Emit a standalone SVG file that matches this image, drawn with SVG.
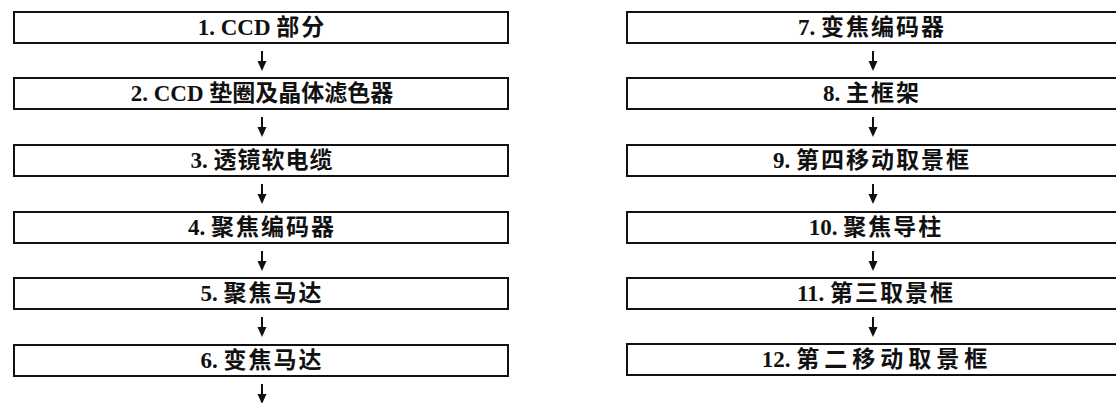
<svg xmlns="http://www.w3.org/2000/svg" width="1116" height="403" viewBox="0 0 1116 403">
<defs>
<style>
.box{fill:#fff;stroke:#111;stroke-width:2}
.lbl{font-family:"Liberation Serif","Noto Sans CJK SC",serif;font-weight:bold;font-size:23px;fill:#111;text-anchor:middle}
.cjk{font-family:"Noto Sans CJK SC","Noto Sans CJK JP",sans-serif;font-weight:bold;font-size:23px;letter-spacing:2px}
.conn{stroke:#111;stroke-width:2;fill:none}
.ah{fill:#111}
</style>
</defs>
<rect width="1116" height="403" fill="#fff"/>
<g id="connectors">
<line class="conn" x1="262" y1="51" x2="262" y2="63"/><path class="ah" d="M257.5,61 L266.5,61 L262,71 Z"/>
<line class="conn" x1="262" y1="117" x2="262" y2="129"/><path class="ah" d="M257.5,127 L266.5,127 L262,137 Z"/>
<line class="conn" x1="262" y1="184" x2="262" y2="196"/><path class="ah" d="M257.5,194 L266.5,194 L262,204 Z"/>
<line class="conn" x1="262" y1="251" x2="262" y2="263"/><path class="ah" d="M257.5,261 L266.5,261 L262,271 Z"/>
<line class="conn" x1="262" y1="317" x2="262" y2="329"/><path class="ah" d="M257.5,327 L266.5,327 L262,337 Z"/>
<line class="conn" x1="262" y1="384" x2="262" y2="396"/><path class="ah" d="M257.5,394 L266.5,394 L262,404 Z"/>
<line class="conn" x1="873" y1="51" x2="873" y2="63"/><path class="ah" d="M868.5,61 L877.5,61 L873,71 Z"/>
<line class="conn" x1="873" y1="117" x2="873" y2="129"/><path class="ah" d="M868.5,127 L877.5,127 L873,137 Z"/>
<line class="conn" x1="873" y1="184" x2="873" y2="196"/><path class="ah" d="M868.5,194 L877.5,194 L873,204 Z"/>
<line class="conn" x1="873" y1="251" x2="873" y2="263"/><path class="ah" d="M868.5,261 L877.5,261 L873,271 Z"/>
<line class="conn" x1="873" y1="317" x2="873" y2="329"/><path class="ah" d="M868.5,327 L877.5,327 L873,337 Z"/>
</g>
<g id="n1"><rect class="box" x="14" y="12" width="494" height="31"/><text class="lbl" x="262" y="35">1. CCD <tspan class="cjk">部分</tspan></text></g>
<g id="n2"><rect class="box" x="14" y="78" width="494" height="31"/><text class="lbl" x="262" y="101">2. CCD <tspan class="cjk" style="letter-spacing:0px">垫圈及晶体滤色器</tspan></text></g>
<g id="n3"><rect class="box" x="14" y="145" width="494" height="31"/><text class="lbl" x="262" y="168">3. <tspan class="cjk" style="letter-spacing:1px">透镜软电缆</tspan></text></g>
<g id="n4"><rect class="box" x="14" y="212" width="494" height="31"/><text class="lbl" x="262" y="235">4. <tspan class="cjk">聚焦编码器</tspan></text></g>
<g id="n5"><rect class="box" x="14" y="278" width="494" height="31"/><text class="lbl" x="262" y="301">5. <tspan class="cjk">聚焦马达</tspan></text></g>
<g id="n6"><rect class="box" x="14" y="345" width="494" height="31"/><text class="lbl" x="262" y="368">6. <tspan class="cjk">变焦马达</tspan></text></g>
<g id="n7"><rect class="box" x="627" y="12" width="500" height="31"/><text class="lbl" x="872" y="35">7. <tspan class="cjk">变焦编码器</tspan></text></g>
<g id="n8"><rect class="box" x="627" y="78" width="500" height="31"/><text class="lbl" x="872" y="101">8. <tspan class="cjk">主框架</tspan></text></g>
<g id="n9"><rect class="box" x="627" y="145" width="500" height="31"/><text class="lbl" x="872" y="168">9. <tspan class="cjk">第四移动取景框</tspan></text></g>
<g id="n10"><rect class="box" x="627" y="212" width="500" height="31"/><text class="lbl" x="876" y="235">10. <tspan class="cjk">聚焦导柱</tspan></text></g>
<g id="n11"><rect class="box" x="627" y="278" width="500" height="31"/><text class="lbl" x="876" y="301">11. <tspan class="cjk">第三取景框</tspan></text></g>
<g id="n12"><rect class="box" x="627" y="344" width="500" height="31"/><text class="lbl" x="877" y="367">12. <tspan class="cjk" style="letter-spacing:5px">第二移动取景框</tspan></text></g>
</svg>
